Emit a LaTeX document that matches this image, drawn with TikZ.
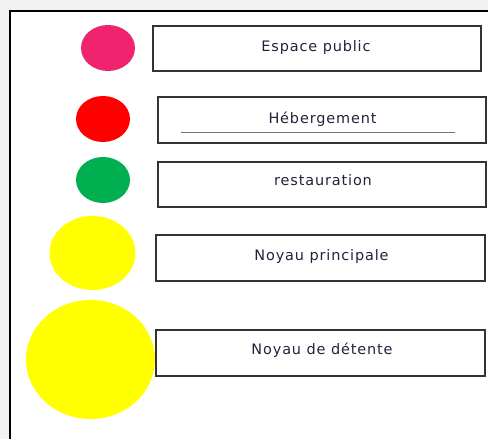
\documentclass[tikz,border=0pt]{standalone}
\usepackage{fontspec}
\setmainfont{DejaVu Sans}[LetterSpace=6]
\usetikzlibrary{shapes.geometric}
\definecolor{pinkdot}{RGB}{240,36,110}
\definecolor{reddot}{RGB}{255,0,0}
\definecolor{greendot}{RGB}{0,176,80}
\definecolor{yellowdot}{RGB}{255,255,0}
\definecolor{txt}{RGB}{34,34,60}
\definecolor{bgout}{RGB}{242,242,242}
\begin{document}
\begin{tikzpicture}[x=1bp,y=-1bp,
  legbox/.style={draw=black!80, line width=1.4bp, rectangle, inner sep=0pt, outer sep=0pt},
  legtext/.style={font=\fontsize{14.5}{14.5}\selectfont, text=txt, anchor=base, inner sep=0pt},
  dot/.style={ellipse, draw=none, inner sep=0pt, outer sep=0pt}]
\useasboundingbox (0,0) rectangle (488,439);
\fill[bgout] (0,0) rectangle (488,439);
\fill[white] (10,11) rectangle (488,439);
\draw[line width=2bp] (10,439) -- (10,11) -- (488,11);
% dots
\node[dot, fill=pinkdot, minimum width=54bp, minimum height=46bp] (d1) at (108,48) {};
\node[dot, fill=reddot, minimum width=54bp, minimum height=46bp] (d2) at (103,119) {};
\node[dot, fill=greendot, minimum width=54bp, minimum height=46bp] (d3) at (103,180) {};
\node[dot, fill=yellowdot, minimum width=86bp, minimum height=74bp] (d4) at (92.5,253) {};
\node[dot, fill=yellowdot, minimum width=129bp, minimum height=119bp] (d5) at (90.5,359.5) {};
% boxes
\node[legbox, minimum width=328bp, minimum height=45bp] (b1) at (317,48.5) {};
\node[legbox, minimum width=328bp, minimum height=46bp] (b2) at (322,120) {};
\node[legbox, minimum width=328bp, minimum height=45bp] (b3) at (322,184.5) {};
\node[legbox, minimum width=329bp, minimum height=46bp] (b4) at (320.5,258) {};
\node[legbox, minimum width=329bp, minimum height=46bp] (b5) at (320.5,353) {};
% texts
\node[legtext] (t1) at (316,52) {Espace public};
\node[legtext] (t2) at (322.5,124) {Hébergement};
\node[legtext] (t3) at (323,186) {restauration};
\node[legtext] (t4) at (321.5,260) {Noyau principale};
\node[legtext] (t5) at (322,354) {Noyau de détente};
% underline in Hebergement box
\coordinate (u1) at (181,132);
\coordinate (u2) at (455,132);
\draw[black!55, line width=0.9bp] (u1) -- (u2);
\end{tikzpicture}
\end{document}
